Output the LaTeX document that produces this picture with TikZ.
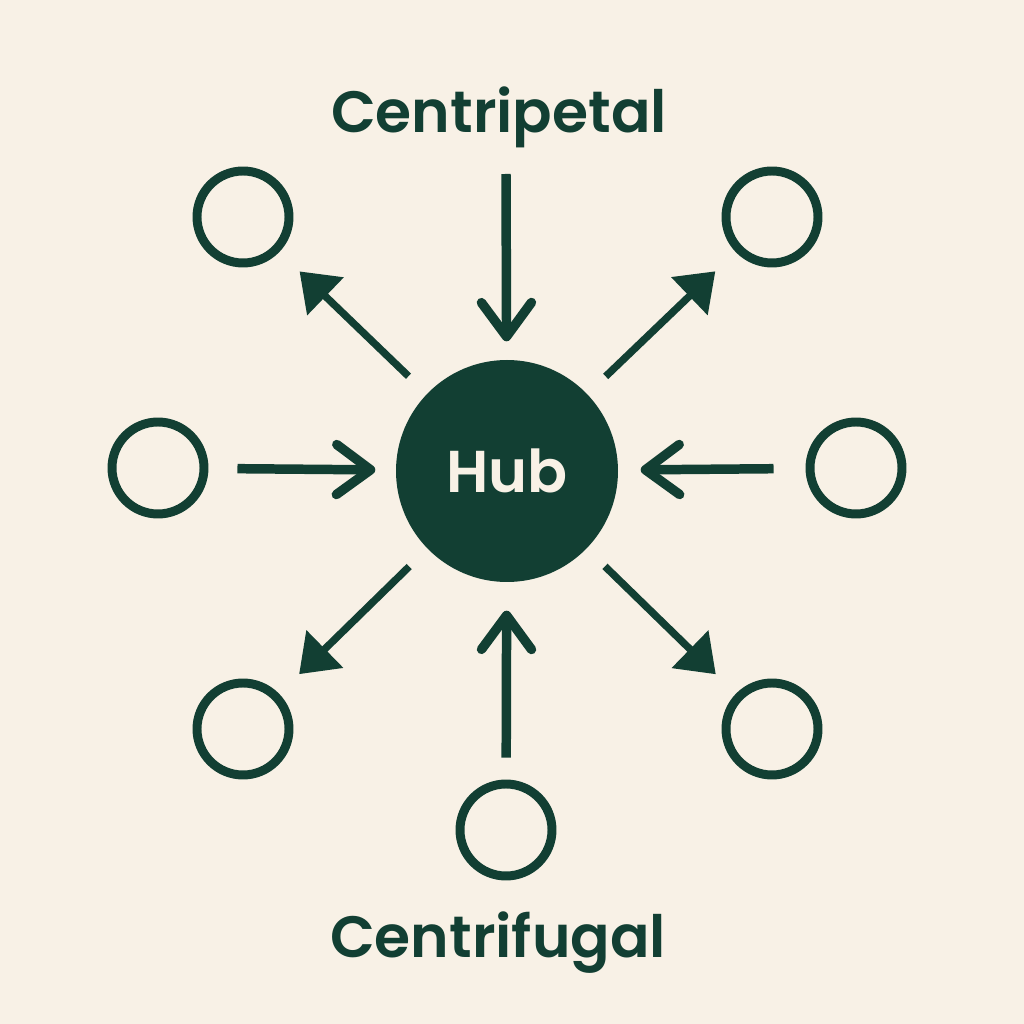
\documentclass[tikz,border=0pt]{standalone}
\usepackage{fontspec}
\setmainfont{Poppins}[BoldFont={Poppins SemiBold}]
\usepackage{tikz}
\usetikzlibrary{positioning,arrows.meta}
\usepackage{xcolor}
\definecolor{HubGreen}{HTML}{123F33}
\definecolor{Cream}{HTML}{F8F1E6}

\begin{document}
\begin{tikzpicture}[
				hub/.style={circle, fill=HubGreen, minimum size=2.22cm, inner sep=0pt,
					text=Cream, font=\fontsize{16.8}{20}\selectfont\bfseries},
				sat/.style={circle, draw=HubGreen, line width=2.55pt, minimum size=0.92cm, inner sep=0pt},
				title/.style={text=HubGreen, anchor=base, font=\fontsize{16.6}{20}\selectfont\bfseries},
				inarrow/.style={HubGreen, line width=2.7pt,
					-{Straight Barb[length=0.34cm, width=0.50cm, round]}},
				outarrow/.style={HubGreen, line width=2.1pt,
					-{Triangle[length=0.36cm, width=0.51cm]}, shorten <=0.25cm, shorten >=0.28cm}
				]
				\fill[Cream] (0,0) rectangle (10.24,10.24);
				\useasboundingbox (0,0) rectangle (10.24,10.24);
				\node[hub] (hub) at (5.07,5.53) {Hub};
				\node[sat] (tl) at (2.43,8.07) {};
				\node[sat] (tr) at (7.72,8.07) {};
				\node[sat] (l) at (1.58,5.56) {};
				\node[sat] (r) at (8.56,5.56) {};
				\node[sat] (bl) at (2.43,2.95) {};
				\node[sat] (br) at (7.72,2.95) {};
				\node[sat] (b) at (5.06,1.94) {};
				\node[title] (petal) at (4.99,8.91) {Centripetal};
				\node[title] (fugal) at (4.98,0.67) {Centrifugal};
				\coordinate (top) at (5.06,8.50);
				% inward
				\draw[inarrow, shorten >=0.18cm] (top) -- (hub);
				\draw[inarrow, shorten <=0.29cm, shorten >=0.20cm] (l) -- (hub);
				\draw[inarrow, shorten <=0.32cm, shorten >=0.22cm] (r) -- (hub);
				\draw[inarrow, shorten <=0.22cm, shorten >=0.28cm] (b) -- (hub);
				% outward
				\draw[outarrow] (hub) -- (tl);
				\draw[outarrow] (hub) -- (tr);
				\draw[outarrow] (hub) -- (bl);
				\draw[outarrow] (hub) -- (br);
			\end{tikzpicture}
\end{document}
